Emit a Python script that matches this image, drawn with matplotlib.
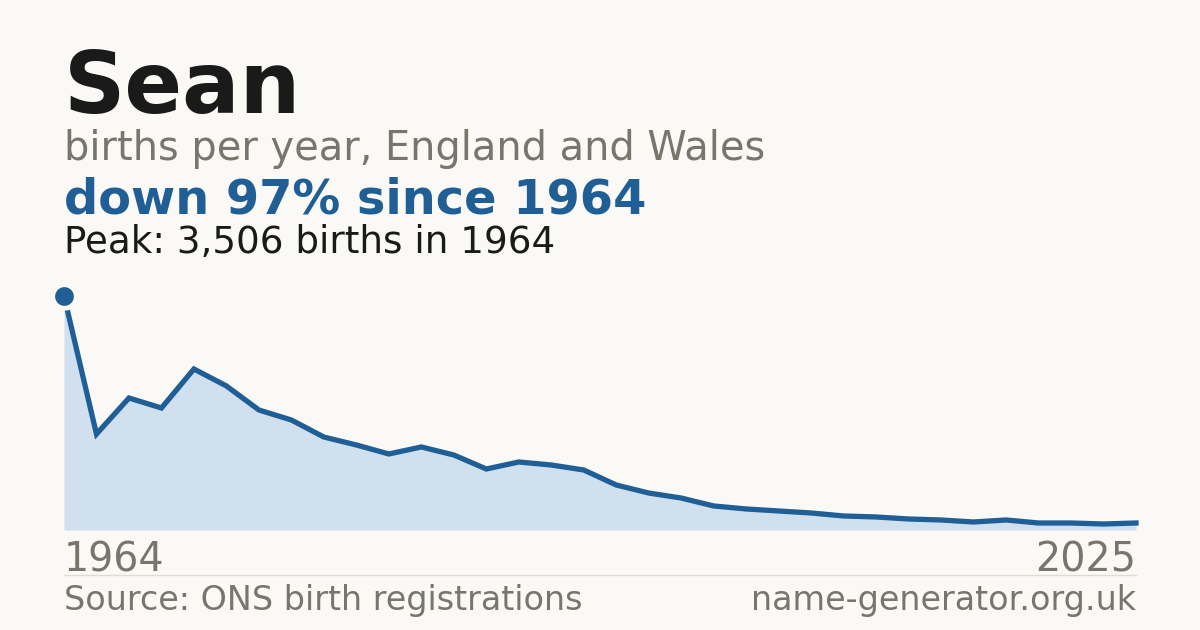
import numpy as np
import matplotlib.pyplot as plt

plt.rcParams['font.family'] = ['DejaVu Sans']

# data points (evenly spaced by index in the original chart)
years = [1964, 1974, 1984, 1994, 1996, 1997, 1998, 1999, 2000, 2001, 2002,
         2003, 2004, 2005, 2006, 2007, 2008, 2009, 2010, 2011, 2012, 2013,
         2014, 2015, 2016, 2017, 2018, 2019, 2020, 2021, 2022, 2023, 2024, 2025]
births = [3506, 1438, 1978, 1828, 2412, 2158, 1798, 1648, 1393, 1274, 1139,
          1244, 1124, 914, 1019, 974, 899, 674, 554, 479, 360, 315,
          285, 255, 210, 195, 165, 150, 120, 150, 105, 105, 90, 105]

name = "Sean"
subtitle = "births per year, England and Wales"
change_text = "down 97% since 1964"
peak_text = "Peak: 3,506 births in 1964"
source_text = "Source: ONS birth registrations"
site_text = "name-generator.org.uk"

BG = "#faf9f5"
DARK = "#1a1a1a"
GREY = "#79746c"
BLUE = "#1f5f96"
FILL = "#d0e0ef"

W, H = 1200, 630
fig = plt.figure(figsize=(12, 6.3), dpi=100, facecolor=BG)

def fy(px):
    return 1 - px / H

ax = fig.add_axes([64 / W, fy(530), 1072 / W, 234 / H])
ax.set_facecolor(BG)
x = np.arange(len(years))
ax.fill_between(x, births, 0, color=FILL, lw=0)
ax.plot(x, births, color=BLUE, lw=3.8, solid_joinstyle='miter', clip_on=False)
peak_i = int(np.argmax(births))
ax.plot(x[peak_i], births[peak_i], 'o', ms=17, color=BLUE, mec=BG, mew=3.5, clip_on=False, zorder=5)
ax.set_xlim(0, len(years) - 1)
ax.set_ylim(0, max(births))
ax.axis('off')

fig.text(64 / W, fy(113), name, fontsize=61.3, fontweight='bold', color=DARK, va='baseline')
fig.text(64 / W, fy(160), subtitle, fontsize=28.7, color=GREY, va='baseline')
fig.text(64 / W, fy(214), change_text, fontsize=34.5, fontweight='bold', color=BLUE, va='baseline')
fig.text(64 / W, fy(253), peak_text, fontsize=26.8, color=DARK, va='baseline')

fig.text(64 / W, fy(571), str(years[0]), fontsize=28.5, color=GREY, va='baseline')
fig.text(1136 / W, fy(571), str(years[-1]), fontsize=28.5, color=GREY, va='baseline', ha='right')

fig.add_artist(plt.Line2D([64 / W, 1136 / W], [fy(574.5), fy(574.5)], color="#dedbd4", lw=1))

fig.text(64 / W, fy(610), source_text, fontsize=24, color=GREY, va='baseline')
fig.text(1136 / W, fy(610), site_text, fontsize=24, color=GREY, va='baseline', ha='right')

fig.savefig("out.png", dpi=100, facecolor=BG)
